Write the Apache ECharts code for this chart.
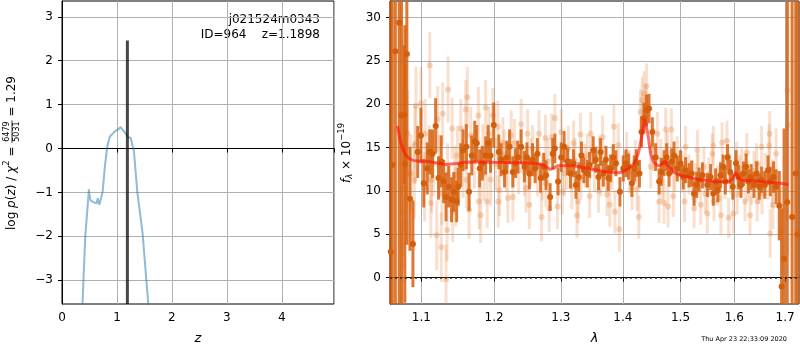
<!DOCTYPE html>
<html>
<head>
<meta charset="utf-8">
<script src="https://cdn.jsdelivr.net/npm/echarts@6/dist/echarts.min.js"></script>
<style>
  html, body { margin: 0; padding: 0; background: #fff; }
  #chart { width: 800px; height: 350px; }
</style>
</head>
<body>
<div id="chart"></div>
<script>
// ---- left panel: log p(z)
const zGrid = [0.33, 0.39, 0.424, 0.49, 0.505, 0.52, 0.57, 0.63, 0.65, 0.68, 0.74, 0.78, 0.824, 0.87, 0.96, 1.03, 1.067, 1.127, 1.205, 1.25, 1.31, 1.37, 1.467, 1.51, 1.57, 1.62];
const logPz = [-5.0, -3.0, -2.0, -0.93, -1.1, -1.18, -1.22, -1.25, -1.13, -1.28, -0.98, -0.41, 0.05, 0.27, 0.39, 0.44, 0.49, 0.39, 0.26, 0.24, -0.07, -0.98, -1.93, -2.61, -3.54, -4.5];
const zBest = 1.1898;
const zLineTop = 2.46;
const pzTicks = [-3, -2, -1, 0, 1, 2, 3];
const zTicks = [0, 1, 2, 3, 4];

// ---- right panel: spectrum (wavelength in micron, flux x 1e-19)
const darkWave = [1.0604, 1.0624, 1.0663, 1.0712, 1.0742, 1.0777, 1.0785, 1.0811, 1.0851, 1.0890, 1.0952, 1.0995,
  1.1032, 1.1078, 1.1112, 1.1148, 1.1190, 1.1228, 1.1265, 1.1297, 1.1330, 1.1367, 1.1405, 1.1437, 1.1475, 1.1497, 1.1531, 1.1563, 1.1609, 1.1647, 1.1684, 1.1726, 1.1754, 1.1796, 1.1832, 1.1880, 1.1916, 1.1950, 1.1996,
  1.2069, 1.2102, 1.2152, 1.2186, 1.2225, 1.2273, 1.2313, 1.2346, 1.2395, 1.2444, 1.2482, 1.2518, 1.2566, 1.2605, 1.2639, 1.2687, 1.2737, 1.2770, 1.2833, 1.2873, 1.2906, 1.2956,
  1.3005, 1.3050, 1.3104, 1.3149, 1.3198, 1.3236, 1.3281, 1.3323, 1.3363, 1.3417, 1.3455, 1.3512, 1.3554, 1.3599, 1.3632, 1.3677, 1.3719, 1.3759, 1.3797, 1.3842, 1.3884, 1.3951,
  1.4007, 1.4053, 1.4095, 1.4153, 1.4193, 1.4228, 1.4281, 1.4316, 1.4358, 1.4403, 1.4446, 1.4503, 1.4561, 1.4621, 1.4661, 1.4709, 1.4754, 1.4796, 1.4842, 1.4884, 1.4942,
  1.5000, 1.5050, 1.5092, 1.5154, 1.5202, 1.5246, 1.5294, 1.5338, 1.5399, 1.5491, 1.5551, 1.5601, 1.5643, 1.5687, 1.5735, 1.5785, 1.5827, 1.5871, 1.5919, 1.5969,
  1.6031, 1.6078, 1.6128, 1.6174, 1.6225, 1.6271, 1.6322, 1.6380, 1.6432, 1.6484, 1.6529, 1.6593, 1.6659, 1.6703, 1.6767, 1.6819, 1.6883, 1.6930, 1.6980, 1.7044, 1.7144, 1.7218, 1.7259];
const darkFlux = [3.0, 13.0, 26.1, 29.4, 18.7, 18.8, 13.1, 25.8, 9.1, 3.9, 14.5, 16.4,
  10.9, 12.6, 14.5, 14.3, 17.5, 11.5, 13.4, 11.1, 9.3, 10.5, 9.0, 9.9, 8.8, 10.5, 13.0, 14.7, 15.1, 9.9, 14.1, 15.7, 15.5, 12.6, 13.2, 14.1, 15.5, 14.1, 17.6,
  14.5, 13.6, 12.2, 13.9, 15.1, 12.2, 13.2, 13.9, 15.1, 12.8, 13.9, 12.0, 13.6, 12.6, 14.3, 11.5, 12.8, 11.8, 9.3, 14.3, 14.9, 11.1,
  13.9, 15.1, 13.4, 12.0, 13.2, 10.7, 11.6, 14.1, 12.4, 12.0, 13.0, 14.7, 13.6, 11.6, 14.5, 12.0, 13.6, 11.5, 12.6, 13.9, 13.2, 9.9,
  12.6, 13.2, 12.8, 10.9, 12.6, 13.2, 12.0, 16.8, 18.4, 19.3, 19.5, 16.8, 13.9, 11.1, 12.2, 13.2, 13.9, 12.0, 13.4, 14.1, 12.6,
  13.2, 11.6, 12.4, 11.8, 12.0, 9.7, 10.7, 11.3, 11.8, 10.7, 11.6, 9.7, 11.1, 10.1, 11.8, 12.8, 11.1, 13.9, 12.2, 10.5,
  13.2, 11.6, 10.7, 12.0, 12.8, 11.1, 11.6, 10.7, 12.0, 10.5, 11.3, 10.7, 12.4, 11.1, 11.6, 10.5, 8.3, -1.0, 2.2, 8.7, 7.0, 12.0, 5.0];
const darkErr = [40, 40, 30, 35, 22, 8, 16, 22, 6, 5, 3.0, 3.2,
  2.8, 3.0, 2.6, 2.8, 3.2, 2.5, 3.0, 2.5, 2.8, 2.4, 2.6, 2.3, 2.4, 2.2, 2.5, 2.4, 2.6, 2.2, 2.3, 2.4, 2.1, 2.2, 2.0, 2.2, 2.1, 2.0, 2.6,
  2.0, 1.9, 1.8, 1.9, 2.0, 1.8, 1.7, 1.9, 2.0, 1.8, 1.7, 1.8, 1.9, 1.7, 1.8, 1.7, 1.6, 1.7, 1.6, 1.8, 1.7, 1.6,
  1.7, 1.8, 1.6, 1.7, 1.6, 1.6, 1.7, 1.6, 1.5, 1.6, 1.5, 1.6, 1.5, 1.5, 1.6, 1.5, 1.6, 1.5, 1.6, 1.5, 1.5, 1.7,
  1.5, 1.6, 1.5, 1.6, 1.5, 1.6, 1.6, 1.8, 1.8, 1.8, 1.7, 1.7, 1.6, 1.5, 1.6, 1.5, 1.6, 1.5, 1.5, 1.6, 1.5,
  1.5, 1.4, 1.5, 1.4, 1.5, 1.4, 1.5, 1.4, 1.5, 1.4, 1.5, 1.4, 1.5, 1.4, 1.5, 1.4, 1.5, 1.5, 1.4, 1.5,
  1.5, 1.4, 1.5, 1.4, 1.5, 1.4, 1.5, 1.5, 1.4, 1.5, 1.5, 1.6, 1.7, 1.7, 1.8, 2.0, 4.0, 9.0, 15, 40, 40, 40, 40];

const faintWave = [1.0755, 1.0762, 1.0768, 1.0775, 1.0821, 1.0864, 1.0908, 1.0916, 1.0929, 1.0995,
  1.1042, 1.1050, 1.1112, 1.1126, 1.1134, 1.1158, 1.1204, 1.1218, 1.1265, 1.1274, 1.1284, 1.1330, 1.1344, 1.1351, 1.1358, 1.1413, 1.1420, 1.1461, 1.1483, 1.1531, 1.1600, 1.1609, 1.1623, 1.1647, 1.1670, 1.1777, 1.1786, 1.1810, 1.1856, 1.1880, 1.1902, 1.1926, 1.1950, 1.1982,
  1.2054, 1.2061, 1.2079, 1.2127, 1.2175, 1.2200, 1.2249, 1.2273, 1.2298, 1.2395, 1.2444, 1.2468, 1.2493, 1.2518, 1.2566, 1.2664, 1.2702, 1.2712, 1.2760, 1.2768, 1.2819, 1.2858, 1.2906, 1.2946,
  1.3005, 1.3021, 1.3054, 1.3116, 1.3170, 1.3198, 1.3252, 1.3269, 1.3307, 1.3315, 1.3417, 1.3455, 1.3472, 1.3599, 1.3611, 1.3665, 1.3731, 1.3739, 1.3785, 1.3851, 1.3868, 1.3924, 1.3941,
  1.4065, 1.4153, 1.4210, 1.4240, 1.4270, 1.4298, 1.4328, 1.4358, 1.4386, 1.4403, 1.4474, 1.4591, 1.4621, 1.4679, 1.4709, 1.4737, 1.4767, 1.4779, 1.4837, 1.4872, 1.4942,
  1.5031, 1.5074, 1.5092, 1.5215, 1.5246, 1.5307, 1.5320, 1.5368, 1.5430, 1.5452, 1.5491, 1.5583, 1.5601, 1.5614, 1.5735, 1.5744, 1.5766, 1.5858, 1.5890, 1.5919, 1.5982,
  1.6045, 1.6054, 1.6141, 1.6205, 1.6238, 1.6302, 1.6335, 1.6432, 1.6442, 1.6529, 1.6539, 1.6659, 1.6678, 1.6690, 1.6700, 1.6756, 1.6819, 1.6936, 1.7049, 1.7059,
  1.1100, 1.1240, 1.1450, 1.1560, 1.1720, 1.1840, 1.2020, 1.2150, 1.2360, 1.2540, 1.2640, 1.2800, 1.3090, 1.3220, 1.3380, 1.3530, 1.3640, 1.3820, 1.4110, 1.4520, 1.4650, 1.4900,
  1.5150, 1.5270, 1.5520, 1.5680, 1.5820, 1.6100, 1.6260, 1.6380, 1.6480, 1.6600, 1.6740];
const faintFlux = [-0.2, 6.1, 7.6, 10.3, 16.6, 12.0, 11.3, 15.3, 19.8, 20.1,
  10.5, 16.6, 24.5, 8.6, 11.3, 13.2, 4.9, 18.3, 3.5, 9.7, 18.9, -0.2, 5.5, 12.0, 21.7, 17.2, 7.6, 9.3, 14.1, 17.2, 19.4, 11.3, 20.8, 7.8, 16.4, 18.7, 8.8, 7.2, 12.0, 19.6, 8.8, 16.6, 11.3, 18.7,
  17.4, 8.8, 10.1, 15.5, 12.8, 9.2, 16.4, 9.3, 15.5, 17.7, 12.2, 10.3, 16.6, 8.4, 14.9, 16.6, 7.0, 11.6, 16.1, 10.9, 8.0, 16.2, 18.4, 8.2,
  16.8, 9.9, 12.0, 14.9, 10.5, 15.5, 7.2, 8.8, 16.5, 11.5, 14.1, 9.4, 16.6, 10.0, 13.9, 16.2, 12.4, 9.6, 8.4, 17.4, 7.6, 15.3, 5.6,
  14.3, 10.3, 13.4, 10.2, 7.0, 19.1, 20.5, 21.2, 19.7, 22.1, 12.8, 16.6, 8.8, 11.3, 8.6, 17.1, 14.5, 8.2, 17.1, 9.4, 13.9,
  12.2, 8.8, 15.1, 11.3, 8.0, 14.7, 12.0, 8.4, 12.8, 9.7, 7.4, 14.3, 15.2, 8.8, 11.1, 7.2, 15.6, 15.8, 6.9, 12.0, 7.4,
  13.4, 9.6, 12.6, 8.8, 14.4, 7.2, 10.7, 13.2, 8.8, 15.1, 9.7, 11.5, 15.2, 16.6, 5.1, 8.4, 14.3, 5.5, 21.6, 17.6,
  13.8, 12.9, 11.8, 12.6, 13.6, 14.6, 13.1, 14.2, 12.4, 13.3, 12.1, 13.4, 12.7, 13.5, 12.9, 12.5, 11.9, 12.6, 12.2, 14.8, 13.6, 12.4,
  11.9, 10.9, 11.6, 10.6, 11.4, 11.8, 11.2, 12.3, 10.9, 11.9, 10.8];
const faintErr = [6, 5, 5, 5, 5, 4.5, 4.5, 4.5, 4.5, 4.2,
  4.0, 4.0, 3.8, 4.0, 3.8, 3.8, 4.0, 3.8, 4.0, 3.6, 3.6, 4.0, 3.6, 3.5, 3.8, 3.5, 3.5, 3.4, 3.4, 3.4, 3.4, 3.3, 3.5, 3.3, 3.3, 3.3, 3.2, 3.2, 3.1, 3.2, 3.1, 3.1, 3.0, 3.2,
  3.0, 3.0, 3.0, 3.0, 2.9, 2.9, 2.9, 2.8, 2.8, 2.9, 2.8, 2.8, 2.8, 2.8, 2.7, 2.7, 2.8, 2.7, 2.7, 2.7, 2.7, 2.7, 2.8, 2.6,
  2.6, 2.6, 2.6, 2.6, 2.6, 2.6, 2.6, 2.5, 2.5, 2.5, 2.5, 2.5, 2.5, 2.5, 2.5, 2.5, 2.5, 2.5, 2.5, 2.5, 2.5, 2.5, 2.6,
  2.5, 2.5, 2.5, 2.5, 2.5, 2.6, 2.6, 2.6, 2.6, 2.6, 2.5, 2.5, 2.5, 2.4, 2.4, 2.5, 2.4, 2.4, 2.4, 2.4, 2.4,
  2.4, 2.4, 2.4, 2.3, 2.3, 2.3, 2.3, 2.3, 2.3, 2.3, 2.3, 2.3, 2.3, 2.3, 2.3, 2.3, 2.3, 2.3, 2.3, 2.3, 2.3,
  2.3, 2.3, 2.3, 2.3, 2.3, 2.3, 2.3, 2.3, 2.3, 2.4, 2.4, 2.5, 2.5, 2.6, 2.8, 2.8, 3.0, 5, 15, 15,
  3.8, 3.6, 3.4, 3.4, 3.3, 3.1, 3.0, 2.9, 2.8, 2.8, 2.7, 2.7, 2.6, 2.6, 2.5, 2.5, 2.5, 2.5, 2.5, 2.5, 2.4, 2.4,
  2.3, 2.3, 2.3, 2.3, 2.3, 2.3, 2.3, 2.3, 2.4, 2.5, 2.8];

const modelWave = [1.069, 1.0735, 1.08, 1.087, 1.095, 1.11, 1.122, 1.132, 1.145, 1.16, 1.18, 1.2, 1.23, 1.255, 1.27, 1.278, 1.283, 1.288, 1.295, 1.31, 1.33, 1.35, 1.365, 1.38, 1.393, 1.405, 1.418, 1.426, 1.432, 1.437, 1.442, 1.447, 1.453, 1.462, 1.468, 1.4725, 1.478, 1.49, 1.5, 1.515, 1.53, 1.55, 1.57, 1.585, 1.595, 1.6, 1.603, 1.607, 1.612, 1.63, 1.656, 1.68, 1.707];
const modelFlux = [17.5, 15.5, 14.1, 13.6, 13.45, 13.4, 13.2, 13.05, 13.15, 13.3, 13.35, 13.3, 13.25, 13.2, 13.05, 12.75, 12.5, 12.6, 12.9, 12.95, 12.8, 12.5, 12.3, 12.15, 12.1, 12.4, 13.1, 14.3, 16.3, 18.2, 16.8, 14.5, 13.3, 12.9, 13.2, 13.4, 12.9, 12.1, 11.8, 11.6, 11.35, 11.2, 11.05, 11.05, 11.3, 11.8, 12.1, 11.6, 11.25, 11.2, 11.1, 10.95, 10.75];

const lamTicks = [1.1, 1.2, 1.3, 1.4, 1.5, 1.6, 1.7];
const fluxTicks = [0, 5, 10, 15, 20, 25, 30];

const FONT = 'DejaVu Sans';
const L = v => Math.log10(v);
const minus = v => (v < 0 ? '\u2212' + (-v) : String(v));

const chart = echarts.init(document.getElementById('chart'), null, { renderer: 'canvas' });

const gridLine = { show: true, lineStyle: { color: '#b0b0b0', width: 1 } };
const tickStyle = { show: true, length: 4, lineStyle: { color: '#000', width: 1 } };
const labelStyle = { color: '#000', fontSize: 12, fontFamily: FONT };

// error bars drawn through the axis scale, clipped to the plot box
function errorBars(color, width) {
  return function (params, api) {
    const x = api.value(0), y = api.value(1), e = api.value(2);
    const lo = api.coord([x, y - e]);
    const hi = api.coord([x, y + e]);
    const cs = params.coordSys;
    const clamp = v => Math.min(Math.max(v, cs.y), cs.y + cs.height);
    return {
      type: 'line',
      shape: { x1: lo[0], y1: clamp(lo[1]), x2: hi[0], y2: clamp(hi[1]) },
      style: { stroke: color, lineWidth: width }
    };
  };
}

// rotated math-ish axis labels built from plain text pieces
const mctx = document.createElement('canvas').getContext('2d');
const fontStr = (size, it) => (it ? 'italic ' : '') + size + 'px "' + FONT + '"';
function textW(t, size, it) { mctx.font = fontStr(size, it); return mctx.measureText(t).width; }
function txt(t, x, y, size, it, align) {
  return {
    type: 'text',
    style: { text: t, x: x, y: y, font: fontStr(size, it), fill: '#000',
      align: align || 'left', textAlign: align || 'left', verticalAlign: 'middle', textVerticalAlign: 'middle' }
  };
}
function mathLabel(parts, cx, cy) {
  const kids = [];
  let x = 0;
  parts.forEach(p => {
    if (p.frac) {
      const w = Math.max(textW(p.num, p.size), textW(p.den, p.size)) + 2;
      kids.push(txt(p.num, x + w / 2, -4.6, p.size, false, 'center'));
      kids.push(txt(p.den, x + w / 2, 4.8, p.size, false, 'center'));
      kids.push({ type: 'line', shape: { x1: x, y1: 0, x2: x + w, y2: 0 }, style: { stroke: '#000', lineWidth: 0.8 } });
      x += w;
    } else {
      const size = p.size || 12;
      kids.push(txt(p.t, x, p.dy || 0, size, p.it));
      x += textW(p.t, size, p.it);
    }
  });
  return { type: 'group', x: cx, y: cy + x / 2, rotation: Math.PI / 2, silent: true, children: kids };
}

const pzLabel = mathLabel([
  { t: 'log ' }, { t: 'p', it: true }, { t: '(' }, { t: 'z', it: true }, { t: ') / ' },
  { t: '\u03c7', it: true }, { t: '2', size: 8.5, dy: -5 }, { t: ' = ' },
  { frac: true, num: '6479', den: '5031', size: 8 }, { t: ' = 1.29' }
], 12, 153);
const fluxLabel = mathLabel([
  { t: 'f', it: true }, { t: '\u03bb', it: true, size: 8.5, dy: 3 }, { t: ' \u00d7 10' }, { t: '\u221219', size: 8.5, dy: -5 }
], 347, 153);

const option = {
  animation: false,
  backgroundColor: '#fff',
  textStyle: { fontFamily: FONT },
  grid: [
    { left: 62, top: 1, width: 272, height: 303, show: true, borderColor: '#000', borderWidth: 1 },
    { left: 390, top: 1, width: 409, height: 303, show: true, borderColor: '#000', borderWidth: 1 }
  ],
  xAxis: [
    {
      type: 'value', gridIndex: 0, min: 0, max: 4.95, interval: 1,
      axisLine: { show: true, lineStyle: { color: '#000' } },
      axisTick: tickStyle,
      axisLabel: Object.assign({ margin: 8, customValues: zTicks }, labelStyle),
      splitLine: gridLine,
      name: 'z', nameLocation: 'middle', nameGap: 28,
      nameTextStyle: { fontSize: 13, fontStyle: 'italic', color: '#000', fontFamily: FONT }
    },
    {
      type: 'value', gridIndex: 1, min: 0.0251, max: 0.2377,
      axisLine: { show: true, lineStyle: { color: '#000' } },
      axisTick: Object.assign({ customValues: lamTicks.map(L) }, tickStyle),
      axisLabel: Object.assign({ margin: 8, customValues: lamTicks.map(L),
        formatter: v => Math.pow(10, v).toFixed(1) }, labelStyle),
      splitLine: gridLine,
      name: '\u03bb', nameLocation: 'middle', nameGap: 28,
      nameTextStyle: { fontSize: 13, fontStyle: 'italic', color: '#000', fontFamily: FONT }
    }
  ],
  yAxis: [
    {
      type: 'value', gridIndex: 0, min: -3.54, max: 3.36,
      axisLine: { show: true, lineStyle: { color: '#000' } },
      axisTick: Object.assign({ customValues: pzTicks }, tickStyle),
      axisLabel: Object.assign({ margin: 9, customValues: pzTicks, formatter: minus }, labelStyle),
      splitLine: gridLine
    },
    {
      type: 'value', gridIndex: 1, min: -3.03, max: 31.9,
      axisLine: { show: true, lineStyle: { color: '#000' } },
      axisTick: Object.assign({ customValues: fluxTicks }, tickStyle),
      axisLabel: Object.assign({ margin: 9, customValues: fluxTicks }, labelStyle),
      splitLine: gridLine
    }
  ],
  graphic: [
    pzLabel,
    fluxLabel,
    txt('j021524m0343', 320, 20, 12, false, 'right'),
    txt('ID=964    z=1.1898', 320, 34.5, 12, false, 'right'),
    txt('Thu Apr 23 22:33:09 2020', 787, 339, 6.5, false, 'right')
  ],
  series: [
    {
      type: 'line', xAxisIndex: 0, yAxisIndex: 0, showSymbol: false, z: 2,
      data: zGrid.map((z, i) => [z, logPz[i]]),
      lineStyle: { color: 'rgba(31,119,180,0.5)', width: 2 }
    },
    {
      type: 'line', xAxisIndex: 0, yAxisIndex: 0, showSymbol: false, z: 3,
      data: [[zBest, -3.54], [zBest, zLineTop]],
      lineStyle: { color: 'rgba(0,0,0,0.72)', width: 3 }
    },
    {
      type: 'custom', xAxisIndex: 1, yAxisIndex: 1, z: 1,
      renderItem: errorBars('rgba(230,130,60,0.26)', 3),
      encode: { x: 0, y: 1 },
      data: faintWave.map((w, i) => [L(w), faintFlux[i], faintErr[i]])
    },
    {
      type: 'scatter', xAxisIndex: 1, yAxisIndex: 1, z: 1, symbolSize: 6,
      itemStyle: { color: 'rgba(230,130,60,0.3)', opacity: 1 },
      data: faintWave.map((w, i) => [L(w), faintFlux[i]])
    },
    {
      type: 'custom', xAxisIndex: 1, yAxisIndex: 1, z: 2,
      renderItem: errorBars('rgba(214,98,16,0.85)', 3),
      encode: { x: 0, y: 1 },
      data: darkWave.map((w, i) => [L(w), darkFlux[i], darkErr[i]])
    },
    {
      type: 'scatter', xAxisIndex: 1, yAxisIndex: 1, z: 3, symbolSize: 6,
      itemStyle: { color: '#d35f0c', opacity: 1 },
      data: darkWave.map((w, i) => [L(w), darkFlux[i]]),
      markLine: {
        silent: true, symbol: 'none', label: { show: false },
        lineStyle: { color: '#222', type: [2, 3], width: 1.6 },
        data: [{ yAxis: 0 }]
      }
    },
    {
      type: 'line', xAxisIndex: 1, yAxisIndex: 1, z: 4, showSymbol: false,
      smooth: 0.2,
      data: modelWave.map((w, i) => [L(w), modelFlux[i]]),
      lineStyle: { color: 'rgba(255,20,10,0.62)', width: 3 }
    }
  ]
};

chart.setOption(option);
</script>
</body>
</html>
